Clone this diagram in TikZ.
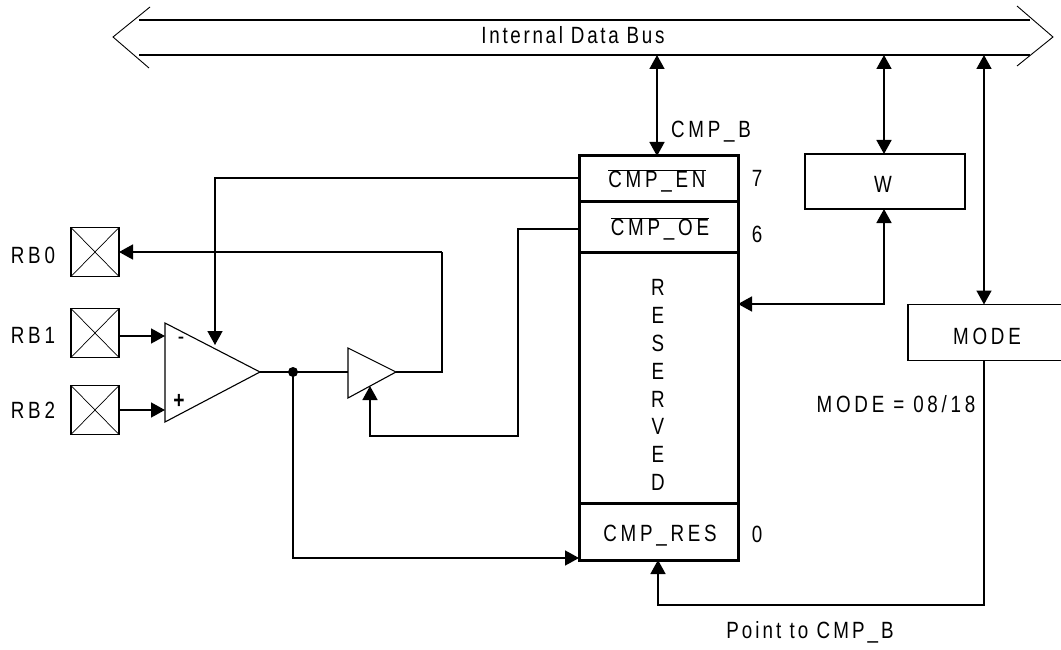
\documentclass[tikz,border=0pt]{standalone}
\usepackage{fontspec}
\setmainfont[LetterSpace=16,FakeStretch=0.8]{Liberation Sans}
\newfontfamily\tightfont[LetterSpace=11.5,FakeStretch=0.8]{Liberation Sans}
\newfontfamily\midfont[LetterSpace=13,FakeStretch=0.8]{Liberation Sans}
\usetikzlibrary{arrows.meta}
\tikzset{
  every node/.style={font=\fontsize{23.5}{24}\selectfont, inner sep=0pt, outer sep=0pt},
  lab/.style={anchor=base},
  wire/.style={line width=1.6pt, -{Triangle[length=14pt,width=15pt]}},
  wireb/.style={line width=1.6pt, {Triangle[length=14pt,width=15pt]}-{Triangle[length=14pt,width=15pt]}},
  line/.style={line width=1.6pt},
  busline/.style={line width=2pt},
  thin line/.style={line width=0.9pt},
  pin/.style={draw, line width=1.8pt, minimum width=48pt, minimum height=49pt, fill=white},
  reg/.style={draw, line width=3pt, minimum width=159pt},
  box/.style={draw, line width=1.7pt},
}
\begin{document}
\begin{tikzpicture}[x=1pt,y=-1pt]
\useasboundingbox (0,0) rectangle (1061,650);
% bus
\coordinate (bl1) at (139,20); \coordinate (br1) at (1030,20);
\coordinate (bl2) at (139,55); \coordinate (br2) at (1030,55);
\coordinate (tl) at (113,37); \coordinate (tr) at (1053,37);
\coordinate (tla) at (150,7); \coordinate (tlb) at (149,68);
\coordinate (tra) at (1017,6); \coordinate (trb) at (1017,66);
\draw[busline] (bl1) -- (br1);
\draw[busline] (bl2) -- (br2);
\draw[thin line] (tla) -- (tl) -- (tlb);
\draw[thin line] (tra) -- (tr) -- (trb);
\node[lab] (bus) at (573,44) {\tightfont Internal Data Bus};
% register
\node[reg, minimum height=46pt] (en) at (658.5,179) {};
\node[reg, minimum height=50pt] (oe) at (658.5,227) {};
\node[reg, minimum height=251pt] (res) at (658.5,377.5) {};
\node[reg, minimum height=57pt] (cr) at (658.5,531.5) {};
\node[lab] (ent) at (657,188) {$\overline{\mbox{CMP\_EN}}$};
\node[lab] (oet) at (660,236) {$\overline{\mbox{CMP\_OE}}$};
\node[lab] (crt) at (660,541) {CMP\_RES};
\node[lab] (r1) at (658,295) {R};
\node[lab] (r2) at (658,323) {E};
\node[lab] (r3) at (658,351) {S};
\node[lab] (r4) at (658,379) {E};
\node[lab] (r5) at (658,407) {R};
\node[lab] (r6) at (658,434) {V};
\node[lab] (r7) at (658,462) {E};
\node[lab] (r8) at (658,490) {D};
\node[lab] (b7) at (757,186) {7};
\node[lab] (b6) at (757,242) {6};
\node[lab] (b0) at (757,542) {0};
\node[lab] (cmpb) at (711,138) {CMP\_B};
% W, MODE
\node[box, minimum width=160pt, minimum height=55pt] (w) at (885,181.5) {};
\node[lab] (wt) at (883,193) {W};
\node[box, minimum width=155pt, minimum height=56pt, anchor=west] (mode) at (908,332.5) {};
\node[lab] (modet) at (987,344) {MODE};
\node[lab] (modeeq) at (896,412) {MODE = 08/18};
\node[lab] (pt) at (810,638) {\midfont Point to CMP\_B};
% pins
\node[pin] (p0) at (95,252) {};
\node[pin] (p1) at (95,333) {};
\node[pin] (p2) at (95,410) {};
\foreach \n in {p0,p1,p2}{
  \draw[line width=0.7pt] (\n.north west) -- (\n.south east);
  \draw[line width=0.7pt] (\n.north east) -- (\n.south west);
}
\node[anchor=base east] (l0) at (55,263) {RB0};
\node[anchor=base east] (l1) at (55,343) {RB1};
\node[anchor=base east] (l2) at (55,418) {RB2};
% amplifier and buffer
\coordinate (a1) at (165,323); \coordinate (a2) at (165,422); \coordinate (a3) at (260,372);
\coordinate (c1) at (348,348); \coordinate (c2) at (348,398); \coordinate (c3) at (396,372);
\draw[line width=1.1pt, line join=miter] (a1) -- (a2) -- (a3) -- cycle;
\draw[line width=1.1pt, line join=miter] (c1) -- (c2) -- (c3) -- cycle;
\node[font=\fontsize{24}{24}\selectfont] (minus) at (181,341) {-};
\node[font=\fontsize{24}{24}\selectfont\bfseries] (plus) at (179,401) {+};
\coordinate (dot) at (293,372);
\fill (dot) circle (5pt);
% wires
\draw[line] (a3) -- (dot) -- (c1 |- dot);
\coordinate (e1) at (442,372); \coordinate (e2) at (442,252);
\draw[line] (c3) -- (e1) -- (e2);
\draw[wire] (e2) -- (p0.east);
\draw[wire] (p1.east |- 0,336) -- (165,336);
\draw[wire] (p2.east |- 0,410) -- (165,410);
\coordinate (k1) at (215,178);
\coordinate (k2) at (215,345);
\draw[wire] (en.west |- 0,178) -- (k1) -- (k2);
\coordinate (o1) at (518,229); \coordinate (o2) at (518,436); \coordinate (o3) at (370,436); \coordinate (o4) at (370,386);
\draw[wire] (oe.west |- o1) -- (o1) -- (o2) -- (o3) -- (o4);
\draw[wire] (dot) -- (293,558) -- (cr.west |- 0,558);
\draw[wireb] (657,55) -- (en.north -| 657,0);
\draw[wireb] (884,55) -- (w.north -| 884,0);
\coordinate (wd) at (884,304);
\draw[wireb] (w.south -| 884,0) -- (wd) -- (res.east |- wd);
\draw[wireb] (984,55) -- (mode.north -| 984,0);
\coordinate (md) at (984,605); \coordinate (mc) at (658,605);
\draw[wire] (mode.south -| 984,0) -- (md) -- (mc) -- (cr.south -| 658,0);
\end{tikzpicture}
\end{document}
